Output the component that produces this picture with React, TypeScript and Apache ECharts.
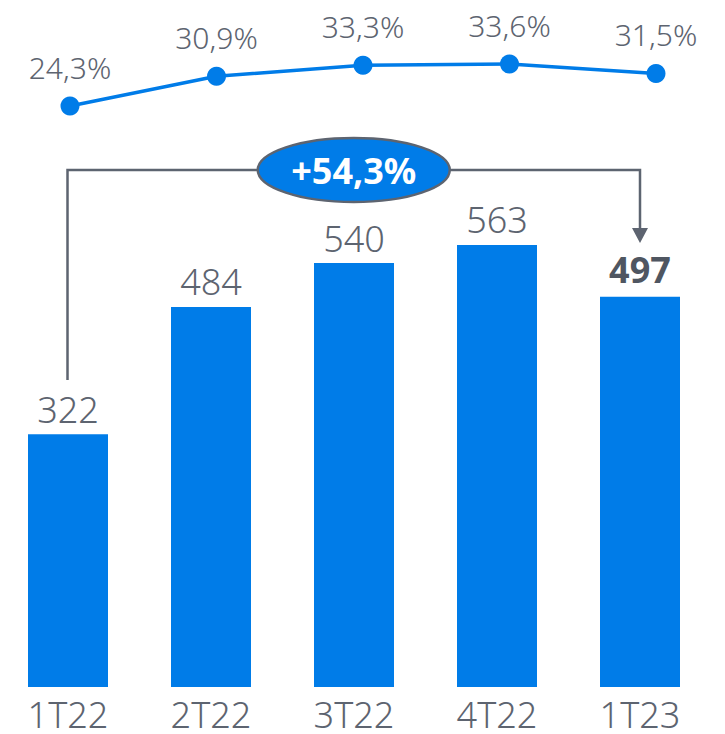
import React, { useEffect, useRef } from "react";
import * as echarts from "echarts";

const categories = ["1T22", "2T22", "3T22", "4T22", "1T23"];
const barValues = [322, 484, 540, 563, 497];
const marginValues = [24.3, 30.9, 33.3, 33.6, 31.5];
const growthLabel = "+54,3%";

const BLUE = "#007ce8";
const GRAY = "#5d6470";
const FONT = "'Noto Sans', 'Open Sans', sans-serif";
const SHIFT = 10;

export default function App() {
  const ref = useRef<HTMLDivElement>(null);
  useEffect(() => {
    if (!ref.current) return;
    const chart = echarts.init(ref.current, null, { renderer: "svg" });
    const lastIdx = barValues.length - 1;
    chart.setOption({
      animation: false,
      grid: [
        { left: SHIFT - 3.5, width: 715, top: 137.4, height: 549.6 },
        { left: SHIFT + 70, width: 586, top: 35.1, height: 90.3 },
      ],
      xAxis: [
        {
          type: "category",
          gridIndex: 0,
          data: categories,
          axisLine: { show: false },
          axisTick: { show: false },
          axisLabel: { fontSize: 36, color: GRAY, fontFamily: FONT, fontWeight: 300, margin: 9 },
        },
        {
          type: "category",
          gridIndex: 1,
          data: categories,
          boundaryGap: false,
          show: false,
        },
      ],
      yAxis: [
        { type: "value", gridIndex: 0, min: 0, max: 700, show: false, splitLine: { show: false } },
        { type: "value", gridIndex: 1, min: 20, max: 40, show: false, splitLine: { show: false } },
      ],
      series: [
        {
          type: "bar",
          xAxisIndex: 0,
          yAxisIndex: 0,
          barWidth: 80,
          itemStyle: { color: BLUE },
          data: barValues.map((v, i) => ({
            value: v,
            label: i === lastIdx ? { fontWeight: 700, color: "#4f5661", distance: 9 } : undefined,
          })),
          label: {
            show: true,
            position: "top",
            distance: 7,
            fontSize: 36,
            color: GRAY,
            fontFamily: FONT,
            fontWeight: 300,
          },
        },
        {
          type: "line",
          xAxisIndex: 1,
          yAxisIndex: 1,
          data: marginValues,
          symbol: "circle",
          symbolSize: 19,
          lineStyle: { color: BLUE, width: 3.5 },
          itemStyle: { color: BLUE },
          label: {
            show: true,
            position: "top",
            distance: 14,
            fontSize: 30,
            color: GRAY,
            fontFamily: FONT,
            fontWeight: 300,
            formatter: (p: any) => String(p.value.toFixed(1)).replace(".", ",") + "%",
          },
        },
      ],
    });

    const p0 = chart.convertToPixel({ xAxisIndex: 0, yAxisIndex: 0 }, [0, 0]) as number[];
    const p4 = chart.convertToPixel({ xAxisIndex: 0, yAxisIndex: 0 }, [lastIdx, 0]) as number[];
    const x0 = Math.round(p0[0]) - 0.5;
    const x4 = Math.round(p4[0]);
    const yTop = 170;
    const cx = (x0 + x4) / 2;
    const lineStyle = { stroke: GRAY, lineWidth: 2.5 };
    chart.setOption({
      graphic: [
        { type: "polyline", shape: { points: [[x0, 380], [x0, yTop], [x4, yTop], [x4, 229]] }, style: { ...lineStyle, fill: null } },
        { type: "polygon", shape: { points: [[x4 - 8, 228], [x4 + 8, 228], [x4, 243]] }, style: { fill: GRAY } },
        { type: "ellipse", shape: { cx, cy: yTop, rx: 96, ry: 32 }, style: { fill: BLUE, stroke: GRAY, lineWidth: 2.5 } },
        {
          type: "text",
          x: cx,
          y: yTop,
          style: {
            text: growthLabel,
            fill: "#ffffff",
            fontSize: 36,
            fontWeight: 700,
            fontFamily: FONT,
            align: "center",
            verticalAlign: "middle",
          },
        },
      ],
    });
    return () => chart.dispose();
  }, []);
  return <div ref={ref} style={{ position: "absolute", left: -SHIFT, top: 0, width: 725 + SHIFT, height: 734 }} />;
}
